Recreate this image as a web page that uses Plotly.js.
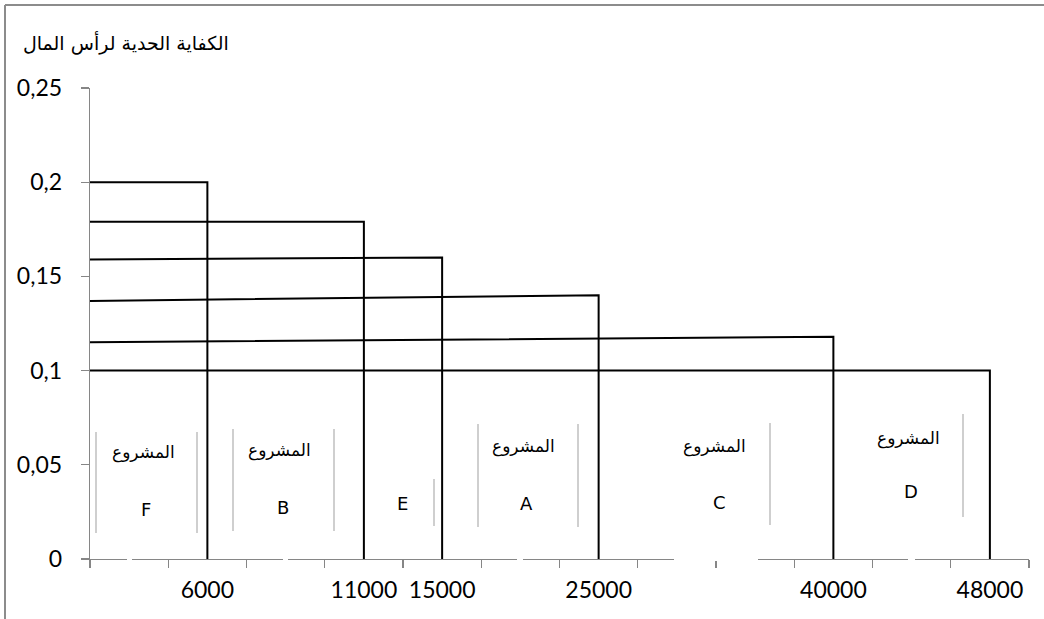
<!DOCTYPE html>
<html>
<head>
<meta charset="utf-8">
<script src="https://cdn.plot.ly/plotly-3.0.1.min.js"></script>
<style>html,body{margin:0;padding:0;background:#fff;}#chart{width:1044px;height:619px;}</style>
</head>
<body>
<div id="chart"></div>
<script>
// ---- data ----
const xSlotLabels = ['', '6000', '', '11000', '15000', '', '25000', '', '', '40000', '', '48000'];
const projectNames = ['F', 'B', 'E', 'A', 'C', 'D'];
const cumulativeInvestment = [6000, 11000, 15000, 25000, 40000, 48000];
const rateAtAxis = [0.2, 0.179, 0.159, 0.137, 0.115, 0.1];
const rateAtStep = [0.2, 0.179, 0.16, 0.14, 0.118, 0.1];
const yTicks = [0, 0.05, 0.1, 0.15, 0.2, 0.25];
const yTitle = 'الكفاية الحدية لرأس المال';
const projectWord = 'المشروع';

// ---- geometry helpers (plot area in pixels) ----
const W = 1044, H = 619;
const M = {l: 90, r: 15, t: 88, b: 60};
const PW = W - M.l - M.r, PH = H - M.t - M.b;
const pxX = p => (p - M.l) / PW;
const pxY = p => (H - M.b - p) / PH;

const slotIdx = xSlotLabels.map((_, i) => i);
const xStart = -0.5, xEnd = xSlotLabels.length - 0.5;

const traces = projectNames.map((name, i) => {
  const xi = xSlotLabels.indexOf(String(cumulativeInvestment[i]));
  return {
    type: 'scatter', mode: 'lines', name: name,
    x: [xStart, xi, xi], y: [rateAtAxis[i], rateAtStep[i], 0],
    line: {color: '#000', width: 2}, cliponaxis: false, hoverinfo: 'skip'
  };
});

// text boxes (decoration positions in pixels)
const boxes = [
  {word: [143, 452], letter: [146, 509], borders: [[96, 432, 533], [197, 432, 533]]},
  {word: [279, 450], letter: [283, 507], borders: [[233, 429, 531], [334, 429, 531]]},
  {word: null,       letter: [402, 503], borders: [[434, 479, 526]]},
  {word: [523, 446], letter: [526, 503], borders: [[478, 424, 527], [578, 424, 527]]},
  {word: [714, 446], letter: [719, 502], borders: [[770, 423, 525]]},
  {word: [908, 438], letter: [911, 491], borders: [[963, 414, 517]]}
];

const annotations = [{
  xref: 'paper', yref: 'paper', x: pxX(231), y: pxY(43), xanchor: 'right', yanchor: 'middle',
  text: yTitle, showarrow: false, font: {family: 'DejaVu Sans', size: 19, color: '#000'}
}];
const shapes = [];
boxes.forEach((b, i) => {
  if (b.word) annotations.push({xref: 'paper', yref: 'paper', x: pxX(b.word[0]), y: pxY(b.word[1]),
    xanchor: 'center', yanchor: 'middle', text: projectWord, showarrow: false,
    font: {family: 'DejaVu Sans', size: 17, color: '#000'}});
  annotations.push({xref: 'paper', yref: 'paper', x: pxX(b.letter[0]), y: pxY(b.letter[1]),
    xanchor: 'center', yanchor: 'middle', text: projectNames[i], showarrow: false,
    font: {family: 'DejaVu Sans', size: 18, color: '#000'}});
  b.borders.forEach(bd => shapes.push({type: 'line', xref: 'paper', yref: 'paper',
    x0: pxX(bd[0]), x1: pxX(bd[0]), y0: pxY(bd[1]), y1: pxY(bd[2]),
    line: {color: '#cfcfcf', width: 2}}));
});
// white text-box backgrounds interrupting the x axis
[[127, 132, 566], [283, 288, 566], [517, 523, 566], [674, 758, 561], [908, 915, 566]].forEach(g => {
  shapes.push({type: 'rect', xref: 'paper', yref: 'paper', layer: 'above',
    x0: pxX(g[0]), x1: pxX(g[1]), y0: pxY(g[2]), y1: pxY(554),
    fillcolor: '#fff', line: {width: 0}});
});
// outer chart frame (left and top edges visible)
shapes.push({type: 'line', xref: 'paper', yref: 'paper', x0: pxX(5), x1: pxX(W + 5), y0: pxY(5), y1: pxY(5),
  line: {color: '#8c8c8c', width: 2}});
shapes.push({type: 'line', xref: 'paper', yref: 'paper', x0: pxX(5), x1: pxX(5), y0: pxY(5), y1: pxY(H + 5),
  line: {color: '#8c8c8c', width: 2}});

const layout = {
  width: W, height: H, margin: M, showlegend: false,
  paper_bgcolor: '#fff', plot_bgcolor: '#fff',
  separators: ', ',
  font: {family: 'Lato, sans-serif', size: 23, color: '#000'},
  xaxis: {
    type: 'linear', range: [xStart, xEnd], fixedrange: true,
    tickmode: 'array', tickvals: slotIdx, ticktext: xSlotLabels, ticks: '',
    ticklabelstandoff: 10,
    minor: {tickmode: 'array', tickvals: slotIdx.map(i => i - 0.5).concat([xEnd]),
      ticks: 'outside', ticklen: 8, tickwidth: 1.3, tickcolor: '#868686', showgrid: false},
    showline: true, linecolor: '#868686', linewidth: 1.3,
    showgrid: false, zeroline: false,
    tickfont: {family: 'Lato, sans-serif', size: 23, color: '#000'}
  },
  yaxis: {
    range: [0, 0.25], fixedrange: true,
    tickmode: 'array', tickvals: yTicks,
    ticks: 'outside', ticklen: 8, tickwidth: 1.3, tickcolor: '#868686',
    ticklabelstandoff: 14,
    showline: true, linecolor: '#868686', linewidth: 1.3,
    showgrid: false, zeroline: false,
    tickfont: {family: 'Lato, sans-serif', size: 23, color: '#000'}
  },
  annotations: annotations,
  shapes: shapes
};

Plotly.newPlot('chart', traces, layout, {staticPlot: true, displayModeBar: false});
</script>
</body>
</html>
